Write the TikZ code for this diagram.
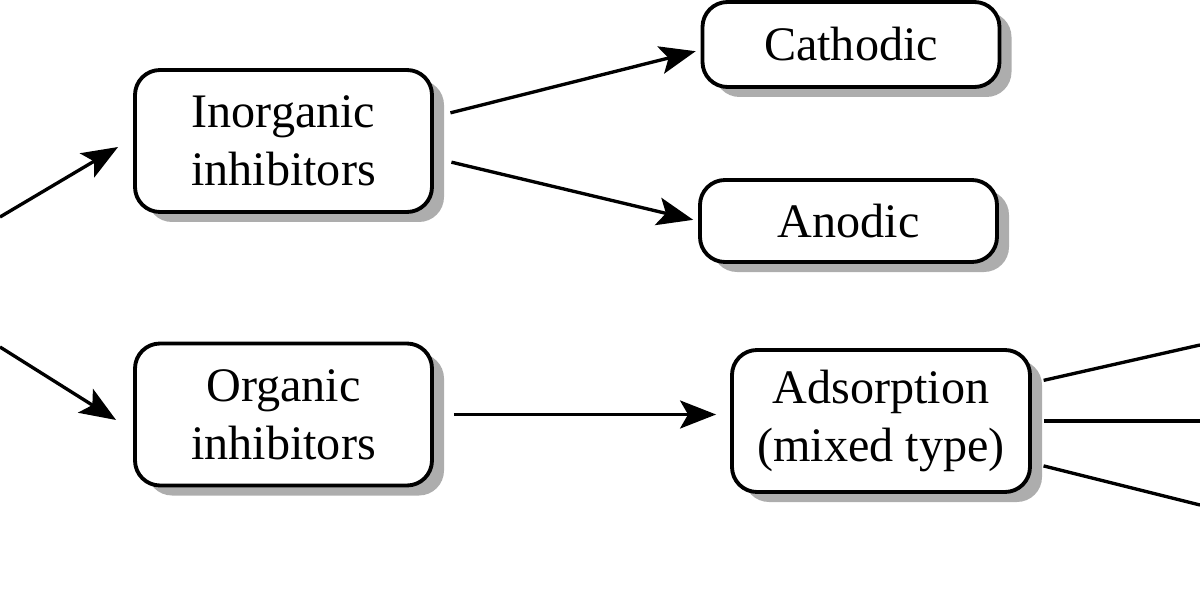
\documentclass[tikz,border=0pt]{standalone}
\usepackage{fontspec}
\setmainfont{Liberation Serif}
\usepackage{tikz}
\usetikzlibrary{arrows.meta,positioning,shadows}
\tikzstyle{block} = [rectangle, draw, line width=1.1pt, fill=white, align=center,
                     rounded corners=0.25cm, minimum width=2.97cm, minimum height=1.42cm,
                     inner sep=0pt, font=\fontsize{13.7}{16.5}\selectfont,
                     drop shadow={shadow xshift=0.12cm, shadow yshift=-0.1cm,
                                  fill=black!32, opacity=1}]
\tikzstyle{arrow} = [-{Stealth[length=0.36cm, width=0.28cm, inset=0.08cm]}, line width=0.95pt]
\tikzstyle{line} = [line width=0.95pt]

\begin{document}
\begin{tikzpicture}
    \useasboundingbox (0,0) rectangle (12,6);
    \node [block] (inorg) at (2.835,4.59) {Inorganic\\inhibitors};
    \node [block, minimum height=0.85cm] (cath) at (8.51,5.555) {Cathodic};
    \node [block, minimum height=0.82cm] (anod) at (8.485,3.79) {Anodic};
    \node [block] (org) at (2.835,1.855) {Organic\\inhibitors};
    \node [block, minimum width=2.98cm] (ads) at (8.81,1.79) {Adsorption\\(mixed type)};

    % free ends at the picture border
    \coordinate (src1) at (0,3.83);
    \coordinate (src2) at (0,2.53);
    \coordinate (out1) at (12,2.55);
    \coordinate (out2) at (12,1.79);
    \coordinate (out3) at (12,0.95);

    \draw [arrow] (src1) -- ([xshift=-0.15cm, yshift=-0.06cm]inorg.west);
    \draw [arrow] (src2) -- ([xshift=-0.17cm, yshift=-0.055cm]org.west);
    \draw [arrow, shorten <=0.17cm, shorten >=0.05cm] ([yshift=0.24cm]inorg.east) -- ([yshift=-0.055cm]cath.west);
    \draw [arrow, shorten <=0.18cm, shorten >=0.05cm] ([yshift=-0.17cm]inorg.east) -- (anod.west);
    \draw [arrow, shorten <=0.2cm, shorten >=0.14cm] (org.east) -- (ads.west |- org.east);
    \draw [line, shorten <=0.12cm] ([yshift=0.38cm]ads.east) -- (out1);
    \draw [line, shorten <=0.12cm] (ads.east) -- (out2);
    \draw [line, shorten <=0.12cm] ([yshift=-0.42cm]ads.east) -- (out3);
  \end{tikzpicture}
\end{document}
